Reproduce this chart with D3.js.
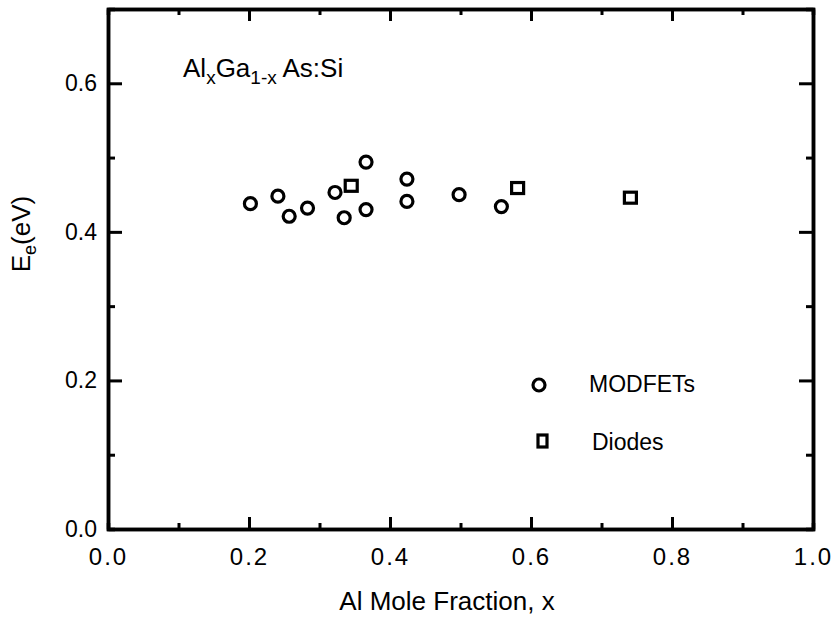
<!DOCTYPE html>
<html>
<head>
<meta charset="utf-8">
<script src="https://cdn.jsdelivr.net/npm/d3@7"></script>
<style>
  body { margin: 0; background: #fff; }
  text { font-family: "Liberation Sans", Arial, sans-serif; fill: #000; }
</style>
</head>
<body>
<div id="chart"></div>
<script>
// data
var modfetX = [0.202, 0.241, 0.257, 0.283, 0.322, 0.335, 0.366, 0.366, 0.424, 0.424, 0.498, 0.558];
var modfetE = [0.438, 0.448, 0.421, 0.432, 0.453, 0.419, 0.494, 0.430, 0.471, 0.441, 0.450, 0.434];
var diodeX = [0.345, 0.581, 0.741];
var diodeE = [0.462, 0.459, 0.446];
var xTicks = [0, 0.2, 0.4, 0.6, 0.8, 1.0];
var yTicks = [0, 0.2, 0.4, 0.6];
var xMinor = [0.1, 0.3, 0.5, 0.7, 0.9];
var yMinor = [0.1, 0.3, 0.5];

var svgWidth = 835, svgHeight = 619;
var margin = {top: 9, right: 22, bottom: 90, left: 108};
var width = svgWidth - margin.left - margin.right;
var height = svgHeight - margin.top - margin.bottom;

var svg = d3.select("#chart").append("svg")
  .attr("width", svgWidth)
  .attr("height", svgHeight);

var chart = svg.append("g")
  .attr("transform", `translate(${margin.left}, ${margin.top})`);

var x = d3.scaleLinear().domain([0, 1]).range([0, width]);
var y = d3.scaleLinear().domain([0, 0.7]).range([height, 0]);

function styleAxis(g) {
  g.select(".domain").attr("stroke-width", 3.5);
  g.selectAll(".tick line").attr("stroke-width", 3);
}

// major ticks, all four sides pointing in
chart.append("g")
  .attr("transform", `translate(0, ${height})`)
  .call(d3.axisBottom(x).tickValues(xTicks).tickSize(-12).tickSizeOuter(0)
    .tickPadding(19).tickFormat(d3.format(".1f")))
  .call(styleAxis)
  .selectAll("text")
    .attr("font-size", 24)
    .attr("letter-spacing", 2);

chart.append("g")
  .call(d3.axisLeft(y).tickValues(yTicks).tickSize(-14).tickSizeOuter(0)
    .tickPadding(11).tickFormat(d3.format(".1f")))
  .call(styleAxis)
  .selectAll("text")
    .attr("font-size", 23);

chart.append("g")
  .call(d3.axisTop(x).tickValues(xTicks).tickSize(-12).tickSizeOuter(0).tickFormat(""))
  .call(styleAxis);

chart.append("g")
  .attr("transform", `translate(${width}, 0)`)
  .call(d3.axisRight(y).tickValues(yTicks).tickSize(-14).tickSizeOuter(0).tickFormat(""))
  .call(styleAxis);

// minor ticks
chart.append("g")
  .attr("transform", `translate(0, ${height})`)
  .call(d3.axisBottom(x).tickValues(xMinor).tickSize(-6).tickFormat(""))
  .call(styleAxis);
chart.append("g")
  .call(d3.axisTop(x).tickValues(xMinor).tickSize(-6).tickFormat(""))
  .call(styleAxis);
chart.append("g")
  .call(d3.axisLeft(y).tickValues(yMinor).tickSize(-7).tickFormat(""))
  .call(styleAxis);
chart.append("g")
  .attr("transform", `translate(${width}, 0)`)
  .call(d3.axisRight(y).tickValues(yMinor).tickSize(-7).tickFormat(""))
  .call(styleAxis);

// points
var modfets = modfetX.map((v, i) => ({x: v, e: modfetE[i]}));
var diodes = diodeX.map((v, i) => ({x: v, e: diodeE[i]}));

chart.selectAll("circle.modfet")
  .data(modfets)
  .enter()
  .append("circle")
  .attr("class", "modfet")
  .attr("cx", d => x(d.x))
  .attr("cy", d => y(d.e))
  .attr("r", 6)
  .attr("fill", "none")
  .attr("stroke", "#000")
  .attr("stroke-width", 3.2);

chart.selectAll("rect.diode")
  .data(diodes)
  .enter()
  .append("rect")
  .attr("class", "diode")
  .attr("x", d => x(d.x) - 6)
  .attr("y", d => y(d.e) - 5.5)
  .attr("width", 12)
  .attr("height", 11)
  .attr("fill", "none")
  .attr("stroke", "#000")
  .attr("stroke-width", 3.2);

// legend
svg.append("circle")
  .attr("cx", 539).attr("cy", 385).attr("r", 6)
  .attr("fill", "none").attr("stroke", "#000").attr("stroke-width", 3.2);
svg.append("text")
  .attr("x", 589).attr("y", 392)
  .attr("font-size", 23)
  .text("MODFETs");
svg.append("rect")
  .attr("x", 538).attr("y", 435).attr("width", 9).attr("height", 12)
  .attr("fill", "none").attr("stroke", "#000").attr("stroke-width", 3.2);
svg.append("text")
  .attr("x", 592).attr("y", 450)
  .attr("font-size", 23)
  .text("Diodes");

// composition label
var title = svg.append("text")
  .attr("x", 183).attr("y", 77)
  .attr("font-size", 26);
title.append("tspan").text("Al");
title.append("tspan").attr("font-size", 19).attr("dy", 7).text("x");
title.append("tspan").attr("dy", -7).text("Ga");
title.append("tspan").attr("font-size", 19).attr("dy", 7).text("1-x");
title.append("tspan").attr("dy", -7).text(" As:Si");

// axis labels
svg.append("text")
  .attr("x", 447).attr("y", 610)
  .attr("text-anchor", "middle")
  .attr("font-size", 26)
  .text("Al Mole Fraction, x");

var ylab = svg.append("text")
  .attr("transform", "translate(30, 234) rotate(-90)")
  .attr("text-anchor", "middle")
  .attr("font-size", 26);
ylab.append("tspan").text("E");
ylab.append("tspan").attr("font-size", 18).attr("dy", 6).text("e");
ylab.append("tspan").attr("dy", -6).text("(eV)");
</script>
</body>
</html>
